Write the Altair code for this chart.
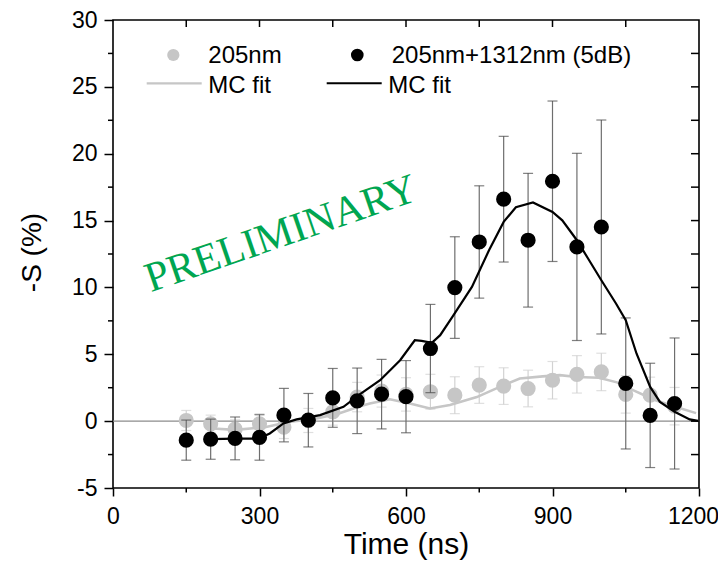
import altair as alt
import pandas as pd

# ---------------- data ----------------
time_ns = [150, 200, 250, 300, 350, 400, 450, 500, 550, 600, 650,
           700, 750, 800, 850, 900, 950, 1000, 1050, 1100, 1150]

s_205 = [0.05, -0.2, -0.6, -0.2, -0.45, 0.05, 0.7, 1.8, 2.25, 2.0, 2.2,
         1.94, 2.7, 2.62, 2.44, 3.06, 3.5, 3.68, 2.0, 1.94, 1.12]
err_205 = [0.75, 0.65, 0.7, 0.75, 0.85, 0.9, 1.0, 1.1, 1.2, 1.25, 1.3,
           1.38, 1.37, 1.37, 1.37, 1.4, 1.4, 1.4, 1.4, 1.35, 1.4]

s_mix = [-1.42, -1.35, -1.29, -1.22, 0.45, 0.07, 1.74, 1.52, 2.02, 1.83, 5.43,
         9.99, 13.4, 16.6, 13.53, 17.94, 13.03, 14.52, 2.82, 0.43, 1.32]
err_mix = [1.5, 1.5, 1.6, 1.7, 2.0, 2.0, 2.2, 2.45, 2.6, 2.7, 3.3,
           3.8, 4.2, 4.7, 5.0, 6.0, 7.0, 8.0, 4.9, 3.9, 4.9]

fit_205_t = [205, 250, 311, 362, 410, 461, 506, 526, 567, 608, 649, 690, 745,
             792, 833, 880, 915, 950, 995, 1032, 1066, 1108, 1150, 1194]
fit_205_s = [-0.55, -0.65, -0.45, -0.05, 0.15, 0.55, 1.12, 1.32, 1.64, 1.32, 0.95,
             1.2, 1.8, 2.56, 3.19, 3.35, 3.44, 3.3, 3.25, 2.9, 2.3, 1.6, 1.1, 0.6]

fit_mix_t = [200, 250, 298, 321, 349, 376, 424, 472, 506, 547, 588, 618, 632, 653,
             670, 695, 735, 770, 800, 825, 860, 900, 920, 950, 975, 1000, 1030,
             1050, 1072, 1100, 1120, 1150, 1181, 1198]
fit_mix_s = [-1.35, -1.3, -1.3, -0.92, -0.17, 0.13, 0.45, 1.07, 2.02, 3.06, 4.56,
             6.05, 6.0, 5.85, 6.43, 7.8, 10.04, 12.78, 14.9, 16.0, 16.35, 15.64,
             15.02, 13.53, 12.03, 10.54, 8.8, 7.55, 5.06, 2.56, 1.44, 0.7, 0.13, 0.02]

x_ticks = [0, 300, 600, 900, 1200]
x_minor = [150, 450, 750, 1050]
x_top = [150, 300, 450, 600, 750, 900, 1050]
y_ticks = [-5, 0, 5, 10, 15, 20, 25, 30]
y_minor = [-2.5, 2.5, 7.5, 12.5, 17.5, 22.5, 27.5]
y_right = [-2.5, 0, 2.5, 5, 7.5, 10, 12.5, 15, 17.5, 20, 22.5, 25, 27.5]

legend_labels = ["205nm", "205nm+1312nm (5dB)", "MC fit", "MC fit"]
watermark = "PRELIMINARY"
watermark_t = [353]
watermark_s = [13.1]

# ---------------- tables ----------------
d205 = pd.DataFrame({"t": time_ns, "s": s_205,
                     "lo": [a - b for a, b in zip(s_205, err_205)],
                     "hi": [a + b for a, b in zip(s_205, err_205)]})
dmix = pd.DataFrame({"t": time_ns, "s": s_mix,
                     "lo": [a - b for a, b in zip(s_mix, err_mix)],
                     "hi": [a + b for a, b in zip(s_mix, err_mix)]})
f205 = pd.DataFrame({"t": fit_205_t, "s": fit_205_s})
fmix = pd.DataFrame({"t": fit_mix_t, "s": fit_mix_s})
one = pd.DataFrame({"a": [0]})

W, H = 586, 468
FONT = "Arial, Liberation Sans"
GRAY_PT = "#C6C6C6"
GRAY_BAR = "#D2D2D2"
BLK_BAR = "#6E6E6E"

xs = alt.Scale(domain=[0, 1200], nice=False, zero=False)
ys = alt.Scale(domain=[-5, 30], nice=False, zero=False)

x_axis = alt.Axis(title="Time (ns)", values=x_ticks, grid=False, domain=False,
                  tickSize=8, tickWidth=1.5, tickColor="black",
                  labelFontSize=23, labelFont=FONT, labelColor="black",
                  labelPadding=9, labelFlush=False, labelOverlap=False,
                  labelExpr="'' + datum.value",
                  labelOffset={"expr": "datum.value == 1200 ? -6 : 0"},
                  titleFontSize=30, titleFont=FONT, titleFontWeight="normal",
                  titleColor="black", titleX=W / 2, titleY=65,
                  titleAlign="center", titleBaseline="alphabetic")
y_axis = alt.Axis(title="-S (%)", values=y_ticks, grid=False, domain=False,
                  tickSize=9, tickWidth=1.5, tickColor="black",
                  labelFontSize=23, labelFont=FONT, labelColor="black",
                  labelPadding=7, labelOverlap=False, labelFlush=False,
                  labelExpr="'' + datum.value",
                  titleFontSize=28, titleFont=FONT, titleFontWeight="normal",
                  titleColor="black", titleAngle=270, titleX=-73, titleY=232,
                  titleAlign="center", titleBaseline="alphabetic")


def X(f):
    return alt.X(f, type="quantitative", scale=xs, axis=x_axis)


def Y(f):
    return alt.Y(f, type="quantitative", scale=ys, axis=y_axis)


zero = alt.Chart(one).mark_rule(color="#8C8C8C", strokeWidth=1.3).encode(
    y=alt.datum(0, scale=ys, axis=y_axis), x=alt.value(0), x2=alt.value(W))


def errbars(df, col_line, col_cap):
    bars = alt.Chart(df).mark_rule(color=col_line, strokeWidth=1.2).encode(
        x=X("t"), y=Y("lo"), y2="hi")
    cap_lo = alt.Chart(df).mark_tick(color=col_cap, orient="horizontal", size=10,
                                     thickness=1.2).encode(x=X("t"), y=Y("lo"))
    cap_hi = alt.Chart(df).mark_tick(color=col_cap, orient="horizontal", size=10,
                                     thickness=1.2).encode(x=X("t"), y=Y("hi"))
    return [bars, cap_lo, cap_hi]


gray_line = alt.Chart(f205).mark_line(color=GRAY_PT, strokeWidth=2.6).encode(
    x=X("t"), y=Y("s"))
gray_pts = alt.Chart(d205).mark_circle(color=GRAY_PT, size=230, opacity=1).encode(
    x=X("t"), y=Y("s"))
blk_line = alt.Chart(fmix).mark_line(color="black", strokeWidth=2.2).encode(
    x=X("t"), y=Y("s"))
blk_pts = alt.Chart(dmix).mark_circle(color="black", size=230, opacity=1).encode(
    x=X("t"), y=Y("s"))

wm = alt.Chart(pd.DataFrame({"t": watermark_t, "s": watermark_s})).mark_text(
    text=watermark, font="Liberation Serif", fontSize=42, color="#00A651",
    angle=341, align="center", baseline="alphabetic").encode(x=X("t"), y=Y("s"))

# minor / mirror ticks
tk = dict(color="black", strokeWidth=1.5)
bot_minor = alt.Chart(pd.DataFrame({"v": x_minor})).mark_rule(**tk).encode(
    x=X("v"), y=alt.value(H), y2=alt.value(H + 4.5))
top_ticks = alt.Chart(pd.DataFrame({"v": x_top})).mark_rule(**tk).encode(
    x=X("v"), y=alt.value(0), y2=alt.value(7))
left_minor = alt.Chart(pd.DataFrame({"v": y_minor})).mark_rule(**tk).encode(
    y=Y("v"), x=alt.value(-5), x2=alt.value(0))
right_ticks = alt.Chart(pd.DataFrame({"v": y_right})).mark_rule(**tk).encode(
    y=Y("v"), x=alt.value(W - 8), x2=alt.value(W))

# legend
lg = []
lg.append(alt.Chart(one).mark_circle(color=GRAY_PT, size=150, opacity=1).encode(
    x=alt.value(60.3), y=alt.value(35)))
lg.append(alt.Chart(one).mark_circle(color="black", size=160, opacity=1).encode(
    x=alt.value(244.3), y=alt.value(35)))
lg.append(alt.Chart(one).mark_rule(color=GRAY_PT, strokeWidth=2.2).encode(
    x=alt.value(33.7), x2=alt.value(88.7), y=alt.value(63.3)))
lg.append(alt.Chart(one).mark_rule(color="black", strokeWidth=2).encode(
    x=alt.value(213.7), x2=alt.value(268.7), y=alt.value(63.3)))
for lbl, px, py in zip(legend_labels, [95.3, 278.7, 95.3, 275.3], [42.7, 42.7, 73.3, 73.3]):
    lg.append(alt.Chart(one).mark_text(align="left", baseline="alphabetic",
                                       font=FONT, fontSize=24, color="black").encode(
        x=alt.value(px), y=alt.value(py), text=alt.value(lbl)))

layers = ([zero] + errbars(d205, GRAY_BAR, GRAY_BAR) + [gray_line, gray_pts]
          + errbars(dmix, BLK_BAR, "#4A4A4A") + [blk_line, blk_pts, wm,
          bot_minor, top_ticks, left_minor, right_ticks] + lg)

chart = alt.layer(*layers).properties(
    width=W, height=H,
    padding={"left": 105, "top": 12, "right": 19, "bottom": 72},
    autosize=alt.AutoSizeParams(type="none"),
    background="white",
).configure_view(stroke="black", strokeWidth=1.6)

chart.save("out.html", embed_options={"renderer": "svg", "actions": False})
